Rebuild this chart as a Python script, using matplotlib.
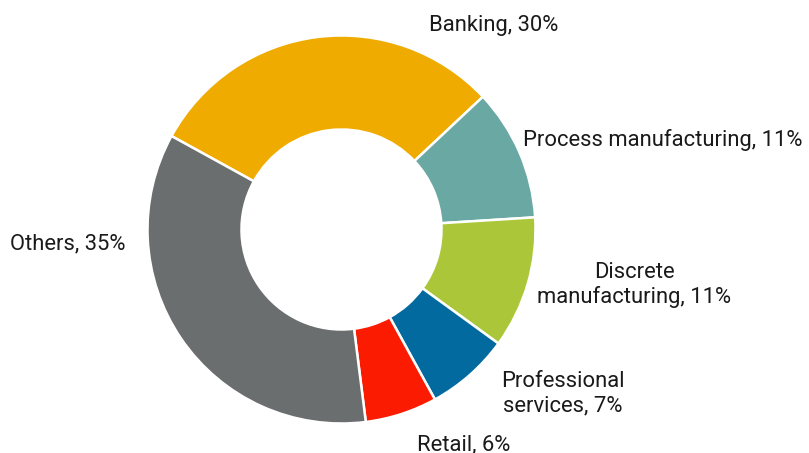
import matplotlib
matplotlib.use("Agg")
import matplotlib.pyplot as plt

plt.rcParams["font.family"] = ["Roboto", "DejaVu Sans"]

# industry mix, clockwise from the top
sectors = ["Banking", "Process manufacturing", "Discrete\nmanufacturing",
           "Professional\nservices", "Retail", "Others"]
shares = [30, 11, 11, 7, 6, 35]
colors = ["#EFAB00", "#6AA9A3", "#ABC739", "#026A9F", "#FA1B00", "#6B6E6E"]

# label anchors in pixel space (x, last-line baseline from top, alignment)
label_pos = [(493.5, 31.5, "center"), (523.5, 146, "left"), (634, 303.5, "center"),
             (562.5, 411.5, "center"), (463.5, 450, "center"), (67.5, 249, "center")]

W, H = 809, 453
fig = plt.figure(figsize=(W / 100, H / 100), dpi=100)
ax = fig.add_axes([0, 0, 1, 1])
ax.set_xlim(0, W)
ax.set_ylim(0, H)
ax.axis("off")

ax.pie(shares, colors=colors, startangle=151.2, counterclock=False,
       center=(341.5, H - 229.5), radius=194,
       wedgeprops=dict(width=94, edgecolor="white", linewidth=1.8))
ax.set_xlim(0, W)
ax.set_ylim(0, H)

for name, pct, (x, y, ha) in zip(sectors, shares, label_pos):
    ax.text(x, H - y, f"{name}, {pct}%", ha=ha, va="baseline", fontsize=15.8,
            color="#1a1a1a", linespacing=1.2, multialignment="center")

fig.savefig("out.png", dpi=100)
